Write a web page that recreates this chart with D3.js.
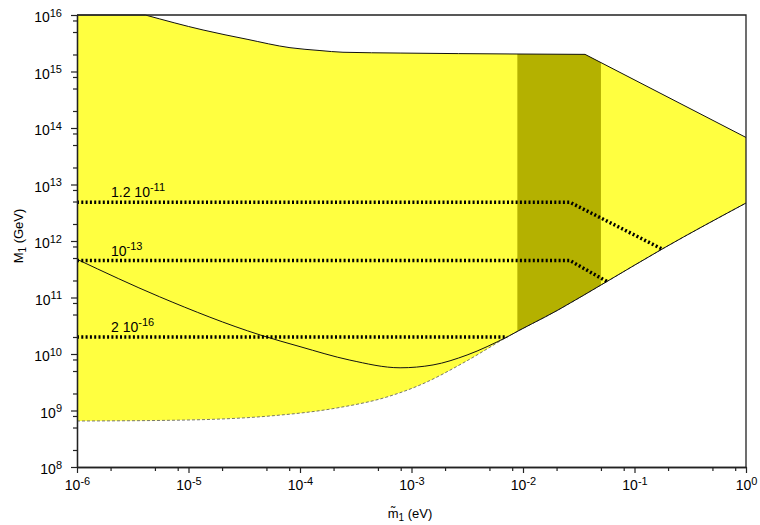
<!DOCTYPE html>
<html>
<head>
<meta charset="utf-8">
<script src="https://cdn.jsdelivr.net/npm/d3@7"></script>
<style>
    body { margin: 0; background: #fff; }
    svg text { font-family: "Liberation Sans", Arial, sans-serif; fill: #000; }
</style>
</head>
<body>
<div id="chart"></div>
<script>
// points as [m1 (eV), M1 (GeV)]
const upperFlat = [[1e-6, 1e16], [4.1e-6, 1e16]];
const upperCurve = [
    [4.1e-6, 1e16], [1.35e-5, 5.43e15], [3.35e-5, 3.72e15],
    [8.13e-5, 2.64e15], [1.51e-4, 2.35e15], [2.43e-4, 2.19e15], [7.9e-4, 2.12e15],
    [8.83e-3, 2.04e15], [3.6e-2, 2.01e15]
];
const upperLine = [[3.6e-2, 2.01e15], [1, 6.8e13]];

const lowerBound = [
    [1e-6, 6.52e8], [6.8e-6, 6.7e8], [5.4e-5, 8.0e8], [2.15e-4, 1.11e9],
    [6.0e-4, 1.73e9], [1.19e-3, 2.82e9], [3.15e-3, 7.6e9], [7.2e-3, 2.0e10],
    [2.06e-2, 6.0e10], [5.66e-2, 1.92e11], [0.177, 7.2e11], [1, 4.7e12]
];
const lowerSolidFrom = 7.0e-3;

const solidCurve = [
    [1e-6, 4.75e11], [5.5e-6, 1.03e11], [4.4e-5, 2.17e10], [1e-4, 1.35e10],
    [2.8e-4, 7.8e9], [7.9e-4, 5.7e9], [1.56e-3, 6.4e9], [3.15e-3, 9.6e9],
    [7.2e-3, 2.0e10]
];

const darkBand = [8.9e-3, 5.0e-2];

const etaLines = [
    [[1e-6, 4.84e12], [2.64e-2, 4.84e12], [0.177, 7.2e11]],
    [[1e-6, 4.5e11], [2.64e-2, 4.5e11], [5.66e-2, 1.92e11]],
    [[1e-6, 2.0e10], [7.2e-3, 2.0e10]]
];
const etaMantissa = ["1.2 10", "10", "2 10"];
const etaExponent = ["-11", "-13", "-16"];

const xTickExp = [-6, -5, -4, -3, -2, -1, 0];
const yTickExp = [8, 9, 10, 11, 12, 13, 14, 15, 16];
const minorSteps = [2, 5, 8];

const width = 760, height = 525;
const mLeft = 77, mRight = 746, mTop = 15, mBottom = 467;

const svg = d3.select('#chart').append('svg')
    .attr('width', width).attr('height', height);

const x = d3.scaleLog().domain([1e-6, 1]).range([mLeft, mRight]);
const y = d3.scaleLog().domain([1e8, 1e16]).range([mBottom, mTop]);

const lineMono = d3.line().x(d => x(d[0])).y(d => y(d[1])).curve(d3.curveMonotoneX);
const lineLin = d3.line().x(d => x(d[0])).y(d => y(d[1]));

const upperPath = lineLin(upperFlat)
    + lineMono(upperCurve).replace(/^M/, 'L')
    + lineLin(upperLine).replace(/^M/, 'L');
const underUpper = upperPath + `L${x(1)},${y(1e8)}L${x(1e-6)},${y(1e8)}Z`;

const defs = svg.append('defs');
defs.append('clipPath').attr('id', 'under-upper').append('path').attr('d', underUpper);
defs.append('clipPath').attr('id', 'solid-part').append('rect')
    .attr('x', x(lowerSolidFrom)).attr('y', mTop)
    .attr('width', mRight - x(lowerSolidFrom)).attr('height', mBottom - mTop);

// allowed region
svg.append('path').attr('d', underUpper).attr('fill', '#ffff40');

svg.append('rect')
    .attr('clip-path', 'url(#under-upper)')
    .attr('x', x(darkBand[0])).attr('y', mTop)
    .attr('width', x(darkBand[1]) - x(darkBand[0])).attr('height', mBottom - mTop)
    .attr('fill', '#b4b100');

svg.append('path')
    .attr('d', d3.area().x(d => x(d[0])).y0(mBottom).y1(d => y(d[1]))
        .curve(d3.curveMonotoneX)(lowerBound))
    .attr('fill', '#fff');

// boundaries
svg.append('path').attr('d', upperPath)
    .attr('fill', 'none').attr('stroke', '#111').attr('stroke-width', 1);

svg.append('path').attr('d', lineMono(lowerBound))
    .attr('fill', 'none').attr('stroke', '#555').attr('stroke-width', 0.8)
    .attr('stroke-dasharray', '3,2');

svg.append('path').attr('d', lineMono(lowerBound))
    .attr('clip-path', 'url(#solid-part)')
    .attr('fill', 'none').attr('stroke', '#111').attr('stroke-width', 1);

svg.append('path').attr('d', lineMono(solidCurve))
    .attr('fill', 'none').attr('stroke', '#111').attr('stroke-width', 1);

// eta_B lines
svg.append('g').selectAll('path')
    .data(etaLines)
    .join('path')
    .attr('d', d => lineLin(d))
    .attr('fill', 'none')
    .attr('stroke', '#000')
    .attr('stroke-width', 3.5)
    .attr('stroke-dasharray', '2,2.3');

const etaText = svg.append('g').selectAll('text')
    .data(etaLines)
    .join('text')
    .attr('x', 111)
    .attr('y', d => y(d[0][1]) - 5)
    .attr('font-size', 14);
etaText.append('tspan').text((d, i) => etaMantissa[i]);
etaText.append('tspan').attr('dy', -6).attr('font-size', 11).text((d, i) => etaExponent[i]);

// axes
const minorX = [], minorY = [];
for (let k = -6; k < 0; k++) minorSteps.forEach(m => minorX.push(m * Math.pow(10, k)));
for (let k = 8; k < 16; k++) minorSteps.forEach(m => minorY.push(m * Math.pow(10, k)));

function styleAxis(g) {
    g.select('.domain').attr('stroke', '#222').attr('stroke-width', 1.3);
    g.selectAll('.tick line').attr('stroke', '#222').attr('stroke-width', 1.2);
}

svg.append('g').attr('transform', `translate(0,${mBottom})`)
    .call(d3.axisBottom(x).tickValues(minorX).tickSize(4).tickSizeOuter(0).tickFormat(''))
    .call(styleAxis);
svg.append('g').attr('transform', `translate(${mLeft},0)`)
    .call(d3.axisLeft(y).tickValues(minorY).tickSize(4).tickSizeOuter(0).tickFormat(''))
    .call(styleAxis);

const xAxis = svg.append('g').attr('transform', `translate(0,${mBottom})`)
    .call(d3.axisBottom(x).tickValues(xTickExp.map(e => Math.pow(10, e)))
        .tickSize(6).tickSizeOuter(0).tickPadding(7))
    .call(styleAxis);
xAxis.selectAll('.tick text').each(function(d, i) {
    const t = d3.select(this).text('10').attr('font-size', 14).attr('fill', '#000');
    t.append('tspan').attr('dy', '-0.45em').attr('font-size', 11).text(xTickExp[i]);
});

const yAxis = svg.append('g').attr('transform', `translate(${mLeft},0)`)
    .call(d3.axisLeft(y).tickValues(yTickExp.map(e => Math.pow(10, e)))
        .tickSize(6).tickSizeOuter(0).tickPadding(9))
    .call(styleAxis);
yAxis.selectAll('.tick text').each(function(d, i) {
    const t = d3.select(this).text('10').attr('font-size', 14).attr('fill', '#000')
        .attr('dy', '0.47em');
    t.append('tspan').attr('dy', '-0.5em').attr('font-size', 11).text(yTickExp[i]);
});

// frame top and right
svg.append('path')
    .attr('d', `M${mLeft},${mTop}H${mRight}V${mBottom}`)
    .attr('fill', 'none').attr('stroke', '#222').attr('stroke-width', 1.3);

// axis titles
const xTitle = svg.append('text').attr('x', 410).attr('y', 518)
    .attr('text-anchor', 'middle').attr('font-size', 13);
xTitle.append('tspan').text('m\u0303');
xTitle.append('tspan').attr('font-size', 10).attr('dy', 3).text('1');
xTitle.append('tspan').attr('dy', -3).text(' (eV)');

const yTitle = svg.append('text')
    .attr('transform', 'translate(23,236) rotate(-90)')
    .attr('text-anchor', 'middle').attr('font-size', 13);
yTitle.append('tspan').text('M');
yTitle.append('tspan').attr('font-size', 10).attr('dy', 3).text('1');
yTitle.append('tspan').attr('dy', -3).text(' (GeV)');
</script>
</body>
</html>
